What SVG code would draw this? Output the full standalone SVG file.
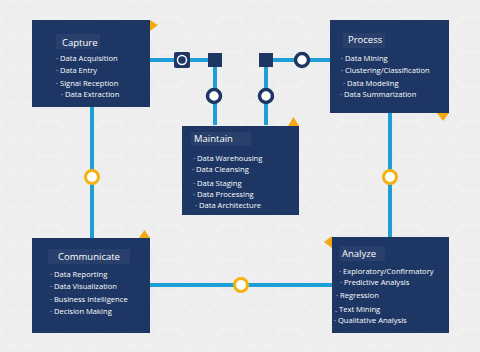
<svg xmlns="http://www.w3.org/2000/svg" width="480" height="352" viewBox="0 0 480 352">
<defs>
<pattern id="hex" width="60" height="34.64" patternUnits="userSpaceOnUse">
<path d="M0,17.32 L10,0 L30,0 L40,17.32 L30,34.64 L10,34.64 Z M40,17.32 L60,17.32" fill="none" stroke="#ffffff" stroke-width="0.8" opacity="0.5"/>
</pattern>
</defs>
<style>
.box{fill:#1d3664}
.tri{fill:#f5a90f}
.hl{fill:#ffffff;opacity:0.05}
.t{font-family:"Open Sans","Noto Sans",sans-serif;fill:#ffffff;font-size:9.5px}
.i{font-family:"Open Sans","Noto Sans",sans-serif;fill:#ffffff;font-size:7.6px}
.ln{stroke:#1ea0d6;stroke-width:4;fill:none}
.yc{fill:#ffffff;stroke:#f5b20f;stroke-width:3}
.nc{fill:#ffffff;stroke:#1d3664;stroke-width:3.5}
.sq{fill:#1d3664}
</style>
<rect width="480" height="352" fill="#eeeeef"/>
<rect width="480" height="352" fill="url(#hex)"/>
<g id="connectors">
<path class="ln" d="M150,60 H215 V125"/>
<path class="ln" d="M330,60 H266 V125"/>
<path class="ln" d="M92,107 V238"/>
<path class="ln" d="M390,113 V237"/>
<path class="ln" d="M150,285 H332"/>
<rect x="174" y="52" width="16" height="16" rx="2" class="sq"/>
<circle cx="182" cy="60" r="4.5" fill="none" stroke="#ffffff" stroke-width="1.5"/>
<rect x="208" y="53" width="14" height="14" class="sq"/>
<rect x="259" y="53" width="14" height="14" class="sq"/>
<circle cx="302" cy="60" r="6.5" class="nc"/>
<circle cx="214" cy="96" r="6.5" class="nc"/>
<circle cx="266" cy="96" r="6.5" class="nc"/>
<circle cx="92" cy="177" r="6.5" class="yc"/>
<circle cx="390" cy="177" r="6.5" class="yc"/>
<circle cx="241" cy="285" r="6.5" class="yc"/>
</g>
<g id="capture">
<rect x="32" y="20" width="118" height="87" class="box"/>
<polygon points="150,20 158,25 150,31" class="tri"/>
<rect x="56" y="34" width="44" height="15" class="hl"/>
<text x="62" y="46" class="t">Capture</text>
<text x="56" y="61" class="i" font-size="8">· Data Acquisition</text>
<text x="56" y="73" class="i">· Data Entry</text>
<text x="56" y="86" class="i" font-size="7.9">· Signal Reception</text>
<text x="61" y="97" class="i" font-size="7">· Data Extraction</text>
</g>
<g id="process">
<rect x="330" y="20" width="119" height="93" class="box"/>
<polygon points="437,113 449,113 443,121" class="tri"/>
<rect x="343" y="33" width="42" height="15" class="hl"/>
<text x="348" y="43" class="t" font-size="8.5">Process</text>
<text x="341" y="61" class="i">· Data Mining</text>
<text x="341" y="73" class="i" font-size="8.8">· Clustering/Classification</text>
<text x="343" y="86" class="i" font-size="7">· Data Modeling</text>
<text x="340" y="97" class="i">· Data Summarization</text>
</g>
<g id="maintain">
<rect x="182" y="126" width="117" height="89" class="box"/>
<polygon points="288,126 299,126 293.5,117" class="tri"/>
<rect x="191" y="132" width="60" height="14" class="hl"/>
<text x="194" y="142" class="t">Maintain</text>
<text x="193" y="161" class="i" font-size="9">· Data Warehousing</text>
<text x="192" y="172" class="i" font-size="7">· Data Cleansing</text>
<text x="193" y="186" class="i" font-size="8.8">· Data Staging</text>
<text x="193" y="197" class="i">· Data Processing</text>
<text x="195" y="208" class="i" font-size="7">· Data Architecture</text>
</g>
<g id="communicate">
<rect x="32" y="238" width="118" height="95" class="box"/>
<polygon points="139,238 150,238 144.5,230" class="tri"/>
<rect x="48" y="249" width="82" height="15" class="hl"/>
<text x="89" y="260" class="t" text-anchor="middle">Communicate</text>
<text x="50" y="277" class="i">· Data Reporting</text>
<text x="50" y="289" class="i">· Data Visualization</text>
<text x="50" y="302" class="i">· Business Intelligence</text>
<text x="50" y="314" class="i">· Decision Making</text>
</g>
<g id="analyze">
<rect x="332" y="237" width="117" height="96" class="box"/>
<polygon points="332,236 332,248 324,242" class="tri"/>
<rect x="339" y="246" width="46" height="15" class="hl"/>
<text x="342" y="257" class="t">Analyze</text>
<text x="339" y="274" class="i" font-size="8.6">· Exploratory/Confirmatory</text>
<text x="340" y="285" class="i">· Predictive Analysis</text>
<text x="336" y="298" class="i">· Regression</text>
<text x="335" y="312" class="i" font-size="7">. Text Mining</text>
<text x="334" y="323" class="i">· Qualitative Analysis</text>
</g>
</svg>
